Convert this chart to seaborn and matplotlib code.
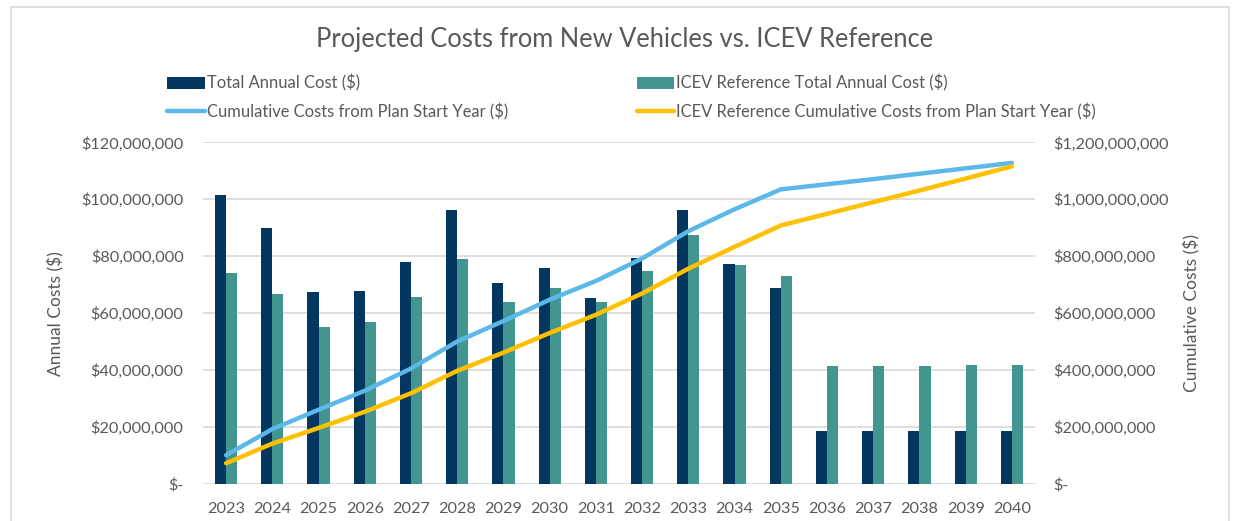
import matplotlib
matplotlib.use("Agg")
import matplotlib.pyplot as plt
import matplotlib.ticker as mticker
import numpy as np
import pandas as pd
import seaborn as sns

years = [str(y) for y in range(2023, 2041)]
total_annual = [101.5, 89.9, 67.3, 67.6, 78.0, 96.3, 70.4, 75.8, 65.3, 79.4,
                96.3, 77.1, 68.7, 18.6, 18.6, 18.6, 18.6, 18.6]
icev_annual = [74.1, 66.7, 55.2, 56.7, 65.6, 79.0, 64.0, 68.9, 64.0, 74.8,
               87.4, 76.8, 72.9, 41.5, 41.5, 41.5, 41.7, 41.7]
cumulative = [100, 192, 260, 327, 405, 500, 572, 647, 713, 792,
              888, 965, 1035, 1053, 1071, 1090, 1109, 1128]
icev_cumulative = [72, 141, 196, 253, 318, 397, 461, 530, 594, 669,
                   756, 833, 908, 949, 990, 1031, 1073, 1116]

bar_labels = ["Total Annual Cost ($)", "ICEV Reference Total Annual Cost ($)"]
line_labels = ["Cumulative Costs from Plan Start Year ($)",
               "ICEV Reference Cumulative Costs from Plan Start Year ($)"]

NAVY = "#03375F"
TEAL = "#42968F"
BLUE = "#5BB8E8"
GOLD = "#FFC000"
GREY = "#595959"
GRID = "#D9D9D9"

sns.set_style("white")
plt.rcParams["font.family"] = ["Lato", "DejaVu Sans"]

bars = pd.DataFrame({
    "year": years * 2,
    "value": [v * 1e6 for v in total_annual + icev_annual],
    "series": [bar_labels[0]] * len(years) + [bar_labels[1]] * len(years),
})

fig = plt.figure(figsize=(12.5, 5.21), dpi=100)
ax = fig.add_axes([0.1624, 0.0716, 0.6656, 0.655])

sns.barplot(data=bars, x="year", y="value", hue="series",
            palette=[NAVY, TEAL], saturation=1, width=0.48, linewidth=0,
            ax=ax)

ax2 = ax.twinx()
x = np.arange(len(years))
sns.lineplot(x=x, y=[v * 1e6 for v in cumulative], color=BLUE, lw=3.2,
             ax=ax2, label=line_labels[0])
sns.lineplot(x=x, y=[v * 1e6 for v in icev_cumulative], color=GOLD, lw=3.2,
             ax=ax2, label=line_labels[1])

ax.set_ylim(0, 120e6)
ax2.set_ylim(0, 1200e6)
ax.set_xlim(-0.5, len(years) - 0.5)
ax.yaxis.set_major_locator(mticker.MultipleLocator(20e6))
ax2.yaxis.set_major_locator(mticker.MultipleLocator(200e6))

def money(v, pos):
    return "$-" if v == 0 else f"${v:,.0f}"

ax.yaxis.set_major_formatter(mticker.FuncFormatter(money))
ax2.yaxis.set_major_formatter(mticker.FuncFormatter(money))

ax.grid(axis="y", color=GRID, lw=1.2)
ax.set_axisbelow(True)
for a in (ax, ax2):
    for s in a.spines.values():
        s.set_visible(False)
    a.tick_params(length=0, labelsize=11.7, colors=GREY)
ax.tick_params(axis="y", pad=14)
ax2.tick_params(axis="y", pad=13)
ax.tick_params(axis="x", pad=13)

ax.set_xlabel("")
ax.set_ylabel("Annual Costs ($)", fontsize=12.5, color=GREY, labelpad=12)
ax2.set_ylabel("Cumulative Costs ($)", fontsize=12.5, color=GREY, labelpad=11)

h1, l1 = ax.get_legend_handles_labels()
h2, l2 = ax2.get_legend_handles_labels()
ax.get_legend().remove()
ax2.get_legend().remove()
handles = [h1[0], h2[0], h1[1], h2[1]]
labels = [l1[0], l2[0], l1[1], l2[1]]
fig.legend(handles, labels, ncol=2, loc="upper left",
           bbox_to_anchor=(0.122, 0.885), frameon=False, fontsize=11.9,
           labelcolor=GREY, handlelength=2.25, handletextpad=0.12,
           columnspacing=7.8, labelspacing=0.68)

fig.suptitle("Projected Costs from New Vehicles vs. ICEV Reference",
             x=0.5, y=0.948, fontsize=18.4, color=GREY)

fig.patches.append(plt.Rectangle((0.009, -0.05), 0.974, 1.036,
                                 transform=fig.transFigure, fill=False,
                                 edgecolor=GRID, lw=1.2))

fig.savefig("out.png", dpi=100)
